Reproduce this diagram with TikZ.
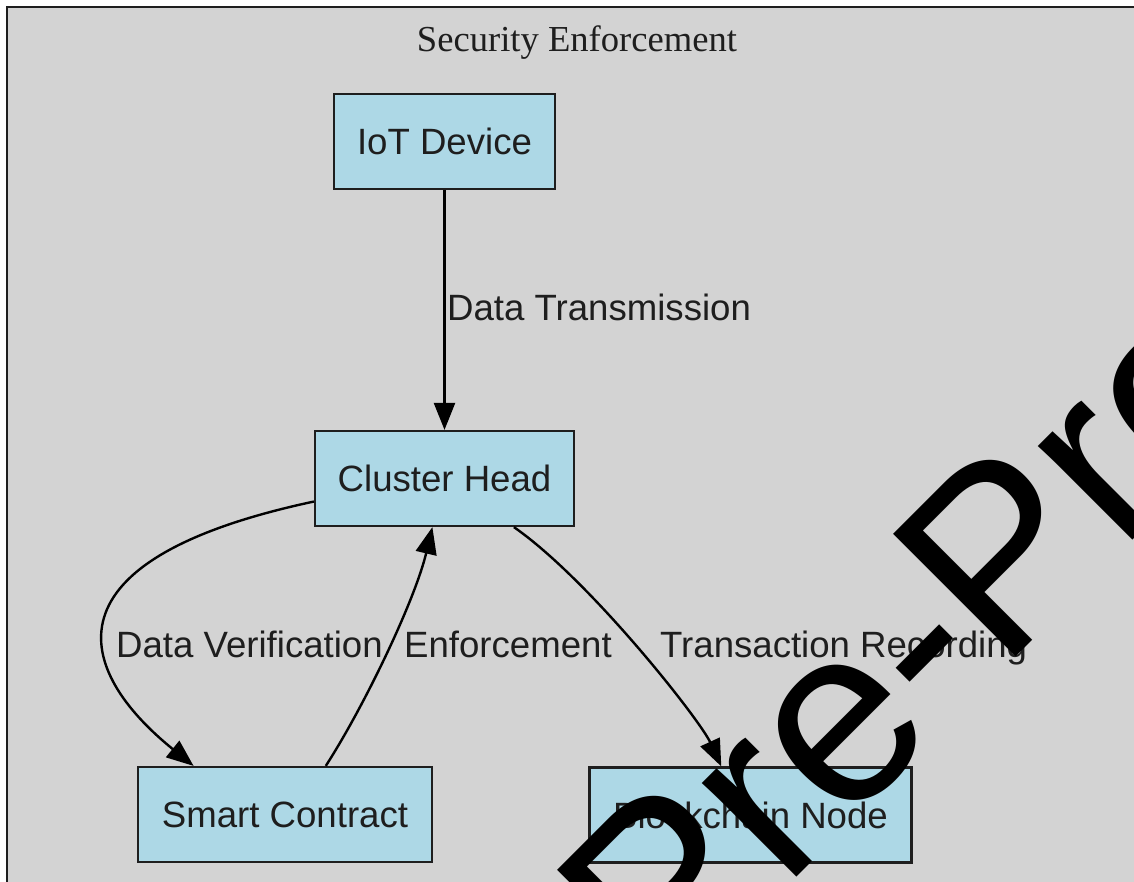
\documentclass[tikz,border=0pt]{standalone}
\usepackage{fontspec}
\setmainfont{Liberation Sans}
\newfontfamily\serifttl{Liberation Serif}
\usetikzlibrary{arrows.meta}
\definecolor{framegray}{HTML}{D3D3D3}
\definecolor{boxblue}{HTML}{ADD8E6}
\definecolor{inkdark}{HTML}{1E1E1E}
\begin{document}
\begin{tikzpicture}[x=1pt,y=-1pt,
  box/.style={draw=inkdark, line width=2.2pt, fill=boxblue, inner sep=0pt, font=\fontsize{36.6}{44}\selectfont, text=inkdark},
  lbl/.style={inner sep=0pt, anchor=base west, font=\fontsize{36.6}{44}\selectfont, text=inkdark},
  conn/.style={line width=2.4pt, draw=black, -{Triangle[length=27pt,width=21pt]}},
  wmark/.style={inner sep=0pt, anchor=base west, rotate=45, font=\fontsize{252}{300}\selectfont, text=black}]
\useasboundingbox (0,0) rectangle (1134,881);
\clip (0,0) rectangle (1134,881);
\fill[white] (0,0) rectangle (1134,881);
\draw[fill=framegray, line width=2.4pt, draw=inkdark] (7,7) rectangle (1170,920);
\node[inner sep=0pt, anchor=base, font=\serifttl\fontsize{36.6}{44}\selectfont, text=inkdark] (title) at (577,51) {Security Enforcement};
\node[box, minimum width=221pt, minimum height=95pt] (iot) at (444.5,141.5) {IoT Device};
\node[box, minimum width=259pt, minimum height=95pt] (ch) at (444.5,478.5) {Cluster Head};
\node[box, minimum width=294pt, minimum height=95pt] (sc) at (285,814.5) {Smart Contract};
\node[box, minimum width=322pt, minimum height=95pt] (bn) at (750.5,815) {Blockchain Node};
\draw[conn] (iot) -- (ch);
\draw[conn] (ch.190) .. controls (40,560) and (75,670) .. (sc.152);
\draw[conn] (sc.50) .. controls (365,705) and (415,600) .. (ch.256);
\draw[conn] (ch.325) .. controls (590,580) and (700,720) .. (bn.121);
\node[lbl] (l1) at (447,320) {Data Transmission};
\node[lbl] (l2) at (116,657) {Data Verification};
\node[lbl] (l3) at (404,657) {Enforcement};
\node[lbl] (l4) at (660,657) {Transaction Recording};
\node[wmark] (wm) at (665,1008) {Pre-Proof};
\end{tikzpicture}
\end{document}
